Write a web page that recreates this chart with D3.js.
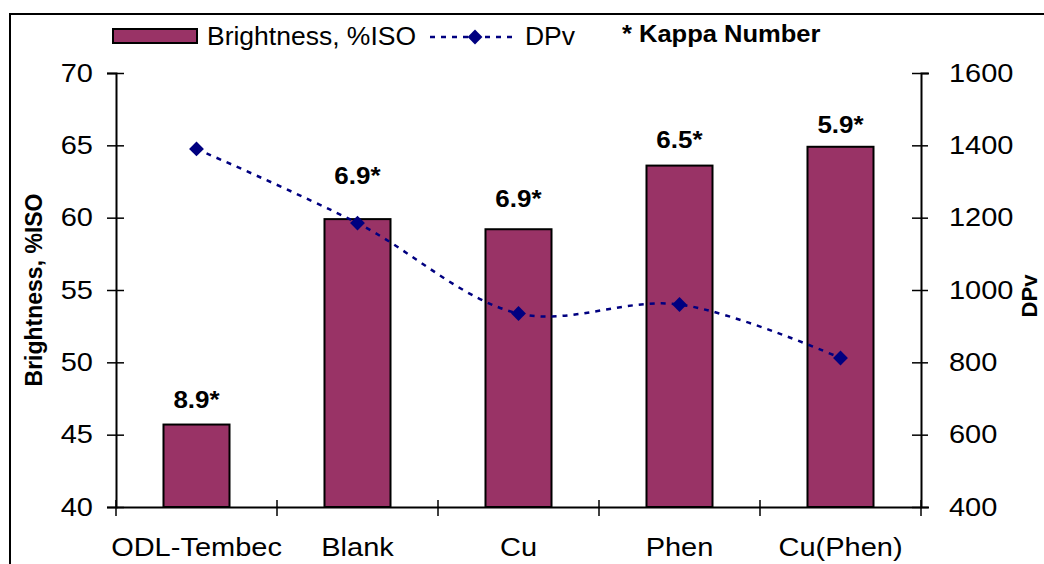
<!DOCTYPE html>
<html>
<head>
<meta charset="utf-8">
<script src="https://cdn.jsdelivr.net/npm/d3@7"></script>
<style>
    body { margin: 0; background: #fff; }
    svg { display: block; font-family: "Liberation Sans", Arial, sans-serif; }
</style>
</head>
<body>
<div id="graph"></div>
<script>
const categories = ["ODL-Tembec", "Blank", "Cu", "Phen", "Cu(Phen)"];
const brightness = [45.7, 59.9, 59.2, 63.6, 64.9];
const dpv = [1390, 1185, 935, 960, 812];
const kappa = ["8.9*", "6.9*", "6.9*", "6.5*", "5.9*"];
const leftTicks = [40, 45, 50, 55, 60, 65, 70];
const rightTicks = [400, 600, 800, 1000, 1200, 1400, 1600];

// how far each kappa label sits above its bar, in px
const labelLift = [17, 35, 22, 18, 14];

renderGraph();

// the original text is a bit wider than Liberation Sans, so widen it around its anchor
function stretch(sel, k) {
    sel.each(function () {
        const t = d3.select(this);
        const x = +t.attr("x") || 0;
        t.attr("transform", `translate(${x * (1 - k)},0) scale(${k},1)`);
    });
}

function renderGraph() {
    const width = 1044;
    const height = 564;
    const margin = {top: 73, bottom: 57, left: 116, right: 123};

    const svg = d3.select("#graph")
        .append("svg")
        .attr("width", width)
        .attr("height", height);

    // outer chart frame, cut off on the right and bottom
    svg.append("rect")
        .attr("x", 10).attr("y", 14)
        .attr("width", 1200).attr("height", 700)
        .attr("fill", "none")
        .attr("stroke", "#000")
        .attr("stroke-width", 2);

    const x = d3.scaleBand()
        .domain(categories)
        .range([margin.left, width - margin.right])
        .paddingInner(0.59)
        .paddingOuter(0.295);

    const y = d3.scaleLinear()
        .domain([40, 70])
        .range([height - margin.bottom, margin.top]);

    const y2 = d3.scaleLinear()
        .domain([400, 1600])
        .range([height - margin.bottom, margin.top]);

    const step = x.step();
    const cx = d => x(d) + x.bandwidth() / 2;

    // bars
    svg.append("g")
        .selectAll("rect")
        .data(categories)
        .join("rect")
          .attr("x", d => x(d))
          .attr("y", (d, i) => y(brightness[i]))
          .attr("width", x.bandwidth())
          .attr("height", (d, i) => y(40) - y(brightness[i]))
          .attr("fill", "#993366")
          .attr("stroke", "#000")
          .attr("stroke-width", 2);

    // kappa labels
    svg.append("g")
        .selectAll("text")
        .data(categories)
        .join("text")
          .attr("x", d => cx(d))
          .attr("y", (d, i) => y(brightness[i]) - labelLift[i])
          .attr("text-anchor", "middle")
          .attr("font-size", "23px")
          .attr("font-weight", "bold")
          .text((d, i) => kappa[i])
          .call(stretch, 1.13);

    // DPv line
    const line = d3.line()
        .x((d, i) => cx(categories[i]))
        .y(d => y2(d))
        .curve(d3.curveCatmullRom.alpha(0.5));

    svg.append("path")
        .datum(dpv)
        .attr("d", line)
        .attr("fill", "none")
        .attr("stroke", "#000080")
        .attr("stroke-width", 2.5)
        .attr("stroke-dasharray", "5,6");

    const diamond = d3.symbol().type(d3.symbolSquare).size(110);
    svg.append("g")
        .selectAll("path")
        .data(dpv)
        .join("path")
          .attr("d", diamond)
          .attr("transform", (d, i) => `translate(${cx(categories[i])},${y2(d)}) rotate(45)`)
          .attr("fill", "#000080");

    // axes
    function yAxis(g) {
        g.attr("transform", `translate(${margin.left},0)`)
         .call(d3.axisLeft(y).tickValues(leftTicks).tickSize(9).tickPadding(14));
        g.selectAll(".tick line").attr("x2", 8).attr("x1", -9);
    }

    function y2Axis(g) {
        g.attr("transform", `translate(${width - margin.right},0)`)
         .call(d3.axisRight(y2).tickValues(rightTicks).tickFormat(d3.format("d")).tickSize(8).tickPadding(20));
        g.selectAll(".tick line").attr("x1", -9).attr("x2", 7);
    }

    function xAxis(g) {
        g.attr("transform", `translate(0,${height - margin.bottom})`)
         .call(d3.axisBottom(x).tickSize(0).tickPadding(31));
        g.selectAll(".tick line").remove();
        // category boundary ticks
        g.selectAll(".sep")
         .data(d3.range(categories.length + 1))
         .join("line")
           .attr("class", "sep")
           .attr("x1", i => margin.left + i * step)
           .attr("x2", i => margin.left + i * step)
           .attr("y1", -7).attr("y2", 9)
           .attr("stroke", "#000")
           .attr("stroke-width", 1.5);
    }

    [yAxis, y2Axis, xAxis].forEach(f => {
        const g = svg.append("g").call(f);
        g.select(".domain").attr("stroke-width", 2);
        g.selectAll(".tick line").attr("stroke-width", 1.5);
        g.selectAll("text")
         .attr("font-size", "25px")
         .attr("font-family", "Liberation Sans, Arial, sans-serif")
         .attr("fill", "#000")
         .call(stretch, 1.16);
    });

    // axis titles
    svg.append("text")
        .attr("transform", "translate(42,290) rotate(-90)")
        .attr("text-anchor", "middle")
        .attr("font-size", "23px")
        .attr("font-weight", "bold")
        .text("Brightness, %ISO");

    svg.append("text")
        .attr("transform", "translate(1037,296) rotate(-90)")
        .attr("text-anchor", "middle")
        .attr("font-size", "22px")
        .attr("font-weight", "bold")
        .text("DPv");

    // legend
    const legend = svg.append("g");
    legend.append("rect")
        .attr("x", 113).attr("y", 29)
        .attr("width", 84).attr("height", 14)
        .attr("fill", "#993366")
        .attr("stroke", "#000")
        .attr("stroke-width", 2);
    legend.append("text")
        .attr("x", 207).attr("y", 45)
        .attr("font-size", "25px")
        .text("Brightness, %ISO")
        .call(stretch, 1.06);
    legend.append("line")
        .attr("x1", 430).attr("x2", 517)
        .attr("y1", 37).attr("y2", 37)
        .attr("stroke", "#000080")
        .attr("stroke-width", 2.5)
        .attr("stroke-dasharray", "5,6");
    legend.append("path")
        .attr("d", diamond)
        .attr("transform", "translate(475,37) rotate(45)")
        .attr("fill", "#000080");
    legend.append("text")
        .attr("x", 525).attr("y", 45)
        .attr("font-size", "25px")
        .text("DPv")
        .call(stretch, 1.06);
    legend.append("text")
        .attr("x", 622).attr("y", 42)
        .attr("font-size", "23px")
        .attr("font-weight", "bold")
        .text("* Kappa Number")
        .call(stretch, 1.11);
}
</script>
</body>
</html>
